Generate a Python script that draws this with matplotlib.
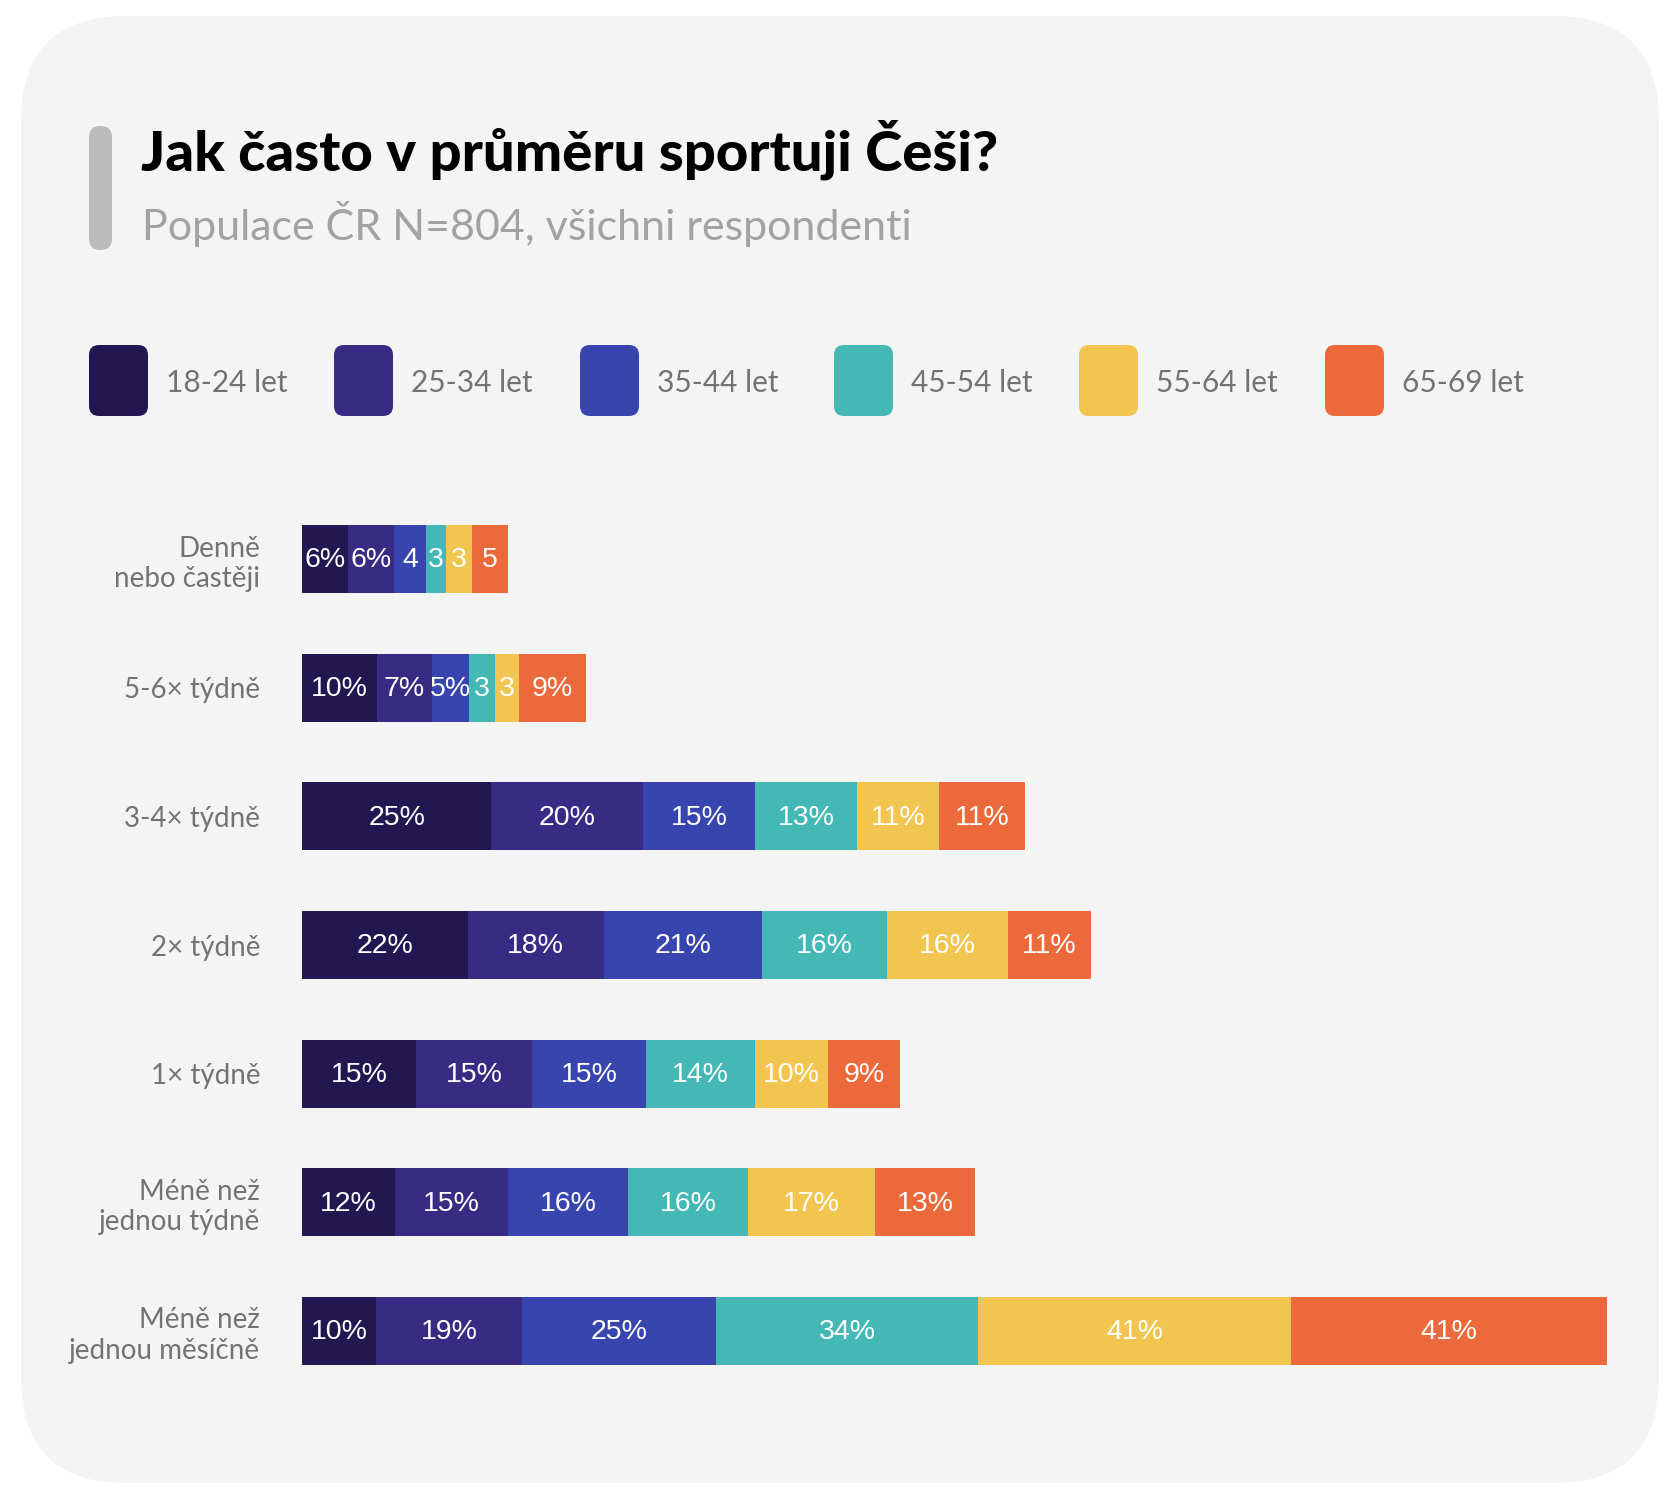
import numpy as np
import matplotlib.pyplot as plt
from matplotlib.patches import FancyBboxPatch
from matplotlib.transforms import IdentityTransform

# data (segment widths, labels are the rounded values)
categories = ["Denně\nnebo častěji", "5-6× týdně", "3-4× týdně", "2× týdně",
              "1× týdně", "Méně než\njednou týdně", "Méně než\njednou měsíčně"]
groups = ["18-24 let", "25-34 let", "35-44 let", "45-54 let", "55-64 let", "65-69 let"]
age_18_24 = [6.0, 9.8, 24.7, 21.6, 14.9, 12.1, 9.6]
age_25_34 = [6.0, 7.1, 19.8, 17.7, 15.1, 14.8, 19.1]
age_35_44 = [4.2, 4.9, 14.6, 20.7, 14.8, 15.6, 25.3]
age_45_54 = [2.6, 3.3, 13.3, 16.2, 14.2, 15.6, 34.1]
age_55_64 = [3.3, 3.2, 10.6, 15.8, 9.6, 16.6, 40.8]
age_65_69 = [4.7, 8.7, 11.3, 10.9, 9.4, 13.0, 41.2]
series = [age_18_24, age_25_34, age_35_44, age_45_54, age_55_64, age_65_69]
# first rows show bare numbers for the narrow segments
short_labels = {(0, 2), (0, 3), (0, 4), (0, 5), (1, 3), (1, 4)}

colors = ["#231752", "#372B83", "#3845AE", "#44B8B5", "#F1C550", "#EB693A"]

W, H = 1680, 1499
fig = plt.figure(figsize=(W / 100, H / 100), dpi=100)
fig.patch.set_facecolor("white")
px = IdentityTransform()


def top(y):
    return H - y


# card background
fig.patches.append(FancyBboxPatch((21, top(1483)), 1638, 1467,
                                  boxstyle="round,pad=0,rounding_size=105",
                                  transform=px, facecolor="#F4F4F4", edgecolor="none",
                                  zorder=-10))
# title accent
fig.patches.append(FancyBboxPatch((89, top(250)), 23, 124,
                                  boxstyle="round,pad=0,rounding_size=11",
                                  transform=px, facecolor="#BBBBBB", edgecolor="none",
                                  zorder=-5))

fig.text(141, top(171), "Jak často v průměru sportuji Češi?", transform=px,
         fontsize=40.5, fontweight="black", family=["Lato", "DejaVu Sans"],
         color="black", va="baseline", ha="left")
fig.text(142, top(240), "Populace ČR N=804, všichni respondenti", transform=px,
         fontsize=31, family=["Lato", "DejaVu Sans"],
         color="#A2A2A2", va="baseline", ha="left")

# legend
legend_x = [89, 334, 580, 834, 1079, 1325]
for lx, g, c in zip(legend_x, groups, colors):
    fig.patches.append(FancyBboxPatch((lx, top(416)), 59, 71,
                                      boxstyle="round,pad=0,rounding_size=10",
                                      transform=px, facecolor=c, edgecolor="none",
                                      zorder=-5))
    fig.text(lx + 77, top(392), g, transform=px, fontsize=21.5,
             family=["Lato", "DejaVu Sans"], color="#737373", va="baseline", ha="left")

# bars
ax = fig.add_axes([302 / W, 1 - 1395.3 / H, 1305 / W, (1395.3 - 494.7) / H])
ax.set_facecolor("none")
y = np.arange(len(categories))
left = np.zeros(len(categories))
for si, (vals, c) in enumerate(zip(series, colors)):
    vals = np.array(vals, dtype=float)
    ax.barh(y, vals, left=left, height=0.53, color=c, edgecolor="none")
    for ri, v in enumerate(vals):
        lab = f"{v:.0f}" if (ri, si) in short_labels else f"{v:.0f}%"
        ax.text(left[ri] + v / 2, ri + 0.01, lab, ha="center", va="center",
                color="white", fontsize=20.5, family=["Liberation Sans", "DejaVu Sans"])
    left += vals

ax.set_xlim(0, left.max())
ax.set_ylim(len(categories) - 0.5, -0.5)
ax.set_xticks([])
ax.set_yticks(y)
ax.set_yticklabels(categories, fontsize=20,
                   family=["Lato", "DejaVu Sans"], color="#737373", linespacing=1.2)
for t in ax.get_yticklabels():
    t.set_horizontalalignment("right")
ax.tick_params(axis="y", length=0, pad=30)
for s in ax.spines.values():
    s.set_visible(False)

fig.savefig("out.png", dpi=100, facecolor="white")
